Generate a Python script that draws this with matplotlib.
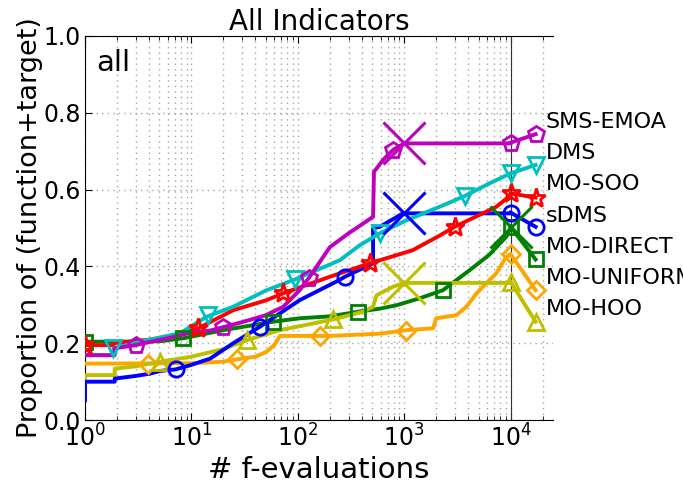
import matplotlib
matplotlib.use('Agg')
import matplotlib.pyplot as plt
import matplotlib.transforms as mtransforms

# ECDF data: number of f-evaluations vs proportion of (function+target) pairs
sms_x = [1, 1.9, 1.9, 3, 4, 6, 10, 15, 20, 30, 50, 73, 104, 128, 200, 300, 510, 520, 633, 785, 1000, 10000]
sms_y = [0.169, 0.169, 0.187, 0.195, 0.203, 0.213, 0.228, 0.233, 0.242, 0.255, 0.273, 0.295, 0.338, 0.371,
         0.45, 0.486, 0.529, 0.646, 0.677, 0.703, 0.72, 0.72]
sms_mx = [3, 19.6, 128, 785, 10000]
sms_my = [0.195, 0.242, 0.371, 0.703, 0.722]

dms_x = [1, 1.85, 1.85, 3.8, 7.8, 13.9, 24.7, 50.8, 94, 248, 382, 589, 1050, 2150, 3700, 6330, 10000]
dms_y = [0.169, 0.169, 0.187, 0.208, 0.226, 0.269, 0.295, 0.338, 0.366, 0.416, 0.455, 0.486, 0.52, 0.555,
         0.583, 0.616, 0.642]
dms_mx = [1.85, 14.4, 94, 589, 3700, 10000]
dms_my = [0.187, 0.273, 0.366, 0.486, 0.583, 0.642]

soo_x = [1, 1.85, 1.85, 5.4, 11.6, 24.7, 50.8, 72.8, 200, 474, 1200, 2150, 2980, 7340, 10000]
soo_y = [0.195, 0.195, 0.2, 0.213, 0.239, 0.286, 0.312, 0.33, 0.373, 0.408, 0.442, 0.48, 0.503, 0.555, 0.585]
soo_mx = [1, 11.6, 72.8, 474, 2980, 10000]
soo_my = [0.195, 0.239, 0.33, 0.408, 0.503, 0.59]

sdms_x = [1, 1, 1.9, 1.9, 3, 4.1, 5.1, 7.1, 9.8, 15, 24.7, 44, 104, 248, 277, 510, 510, 590, 975, 10000]
sdms_y = [0.052, 0.1, 0.1, 0.108, 0.115, 0.121, 0.128, 0.132, 0.143, 0.16, 0.2, 0.243, 0.312, 0.365, 0.373,
          0.408, 0.499, 0.503, 0.538, 0.538]
sdms_mx = [7.1, 44, 277, 10000]
sdms_my = [0.132, 0.243, 0.373, 0.54]

direct_x = [1, 2, 5, 8.4, 19.9, 58.6, 104, 200, 368, 590, 850, 1400, 2313, 4120, 6300, 9100, 10000]
direct_y = [0.204, 0.204, 0.205, 0.213, 0.234, 0.256, 0.265, 0.27, 0.282, 0.29, 0.299, 0.317, 0.338, 0.39,
            0.43, 0.477, 0.50]
direct_mx = [1, 8.4, 58.6, 368, 2313, 10000]
direct_my = [0.204, 0.213, 0.256, 0.282, 0.338, 0.503]

uniform_x = [1, 10, 20, 26.6, 40, 50.8, 60, 67.8, 200, 600, 1050, 1870, 2000, 3100, 3840, 4800, 5900, 7350,
             9100, 10000]
uniform_y = [0.147, 0.148, 0.152, 0.158, 0.165, 0.178, 0.195, 0.219, 0.219, 0.225, 0.234, 0.239, 0.265, 0.273,
             0.295, 0.33, 0.356, 0.382, 0.425, 0.43]
uniform_mx = [3.9, 26.6, 161, 1050, 10000]
uniform_my = [0.147, 0.158, 0.219, 0.232, 0.432]

hoo_x = [1, 1, 1.9, 1.9, 3, 5.1, 10, 20, 33, 67.8, 215, 410, 510, 550, 785, 1000, 10000]
hoo_y = [0.087, 0.117, 0.117, 0.134, 0.14, 0.152, 0.165, 0.185, 0.208, 0.234, 0.262, 0.282, 0.295, 0.325,
         0.347, 0.357, 0.357]
hoo_mx = [5.1, 33, 215, 10000]
hoo_my = [0.152, 0.208, 0.262, 0.36]

# final proportion per algorithm, drawn past the budget line
end_x = 17200
final_values = {'SMS-EMOA': 0.744, 'DMS': 0.664, 'MO-SOO': 0.579, 'sDMS': 0.503,
                'MO-DIRECT': 0.418, 'MO-UNIFORM': 0.338, 'MO-HOO': 0.256}
# last evaluated point of runs that stopped early
stop_points = {'SMS-EMOA': (1000, 0.72), 'sDMS': (1000, 0.538),
               'MO-HOO': (1000, 0.357), 'MO-DIRECT': (10000, 0.503)}

label_order = ['SMS-EMOA', 'DMS', 'MO-SOO', 'sDMS', 'MO-DIRECT', 'MO-UNIFORM', 'MO-HOO']
label_y = [0.776, 0.696, 0.614, 0.531, 0.451, 0.369, 0.288]

# drawn bottom to top
algos = [
    ('MO-UNIFORM', uniform_x, uniform_y, uniform_mx, uniform_my, 'orange', 'D', 9),
    ('MO-DIRECT', direct_x, direct_y, direct_mx, direct_my, 'g', 's', 10),
    ('MO-HOO', hoo_x, hoo_y, hoo_mx, hoo_my, 'y', '^', 12),
    ('sDMS', sdms_x, sdms_y, sdms_mx, sdms_my, 'b', 'o', 11),
    ('MO-SOO', soo_x, soo_y, soo_mx, soo_my, 'r', '*', 14),
    ('DMS', dms_x, dms_y, dms_mx, dms_my, 'c', 'v', 12),
    ('SMS-EMOA', sms_x, sms_y, sms_mx, sms_my, 'm', 'p', 12),
]

fig = plt.figure(figsize=(6.83, 4.84), dpi=100)
ax = fig.add_axes([0.1245, 0.132, 0.685, 0.794])

for name, xs, ys, mx, my, col, mk, ms in algos:
    ax.plot(xs, ys, color=col, lw=2.8, zorder=3)
    ax.plot(mx, my, ls='none', marker=mk, ms=ms, mfc='none', mec=col, mew=2, zorder=4)
    ax.plot([mx[-1], end_x], [my[-1], final_values[name]], color=col, lw=2.8,
            marker=mk, ms=ms, mfc='none', mec=col, mew=2, markevery=[1], zorder=4, clip_on=False)
    if name in stop_points:
        sx, sy = stop_points[name]
        ax.plot([sx], [sy], marker='x', ms=30, mew=2.2, color=col, zorder=5)

ax.axvline(10000, color='0.2', lw=0.8, zorder=2)

ax.set_xscale('log')
ax.set_xlim(1, 2.5e4)
ax.set_ylim(0, 1)
ax.set_yticks([0, 0.2, 0.4, 0.6, 0.8, 1.0])
ax.grid(True, which='major', ls=(0, (1, 3)), color='0.65', lw=1)
ax.grid(True, which='minor', axis='x', ls=(0, (1, 3)), color='0.65', lw=1)
ax.tick_params(which='both', direction='in', top=True, right=False, labelsize=17, pad=3)
ax.tick_params(which='major', length=5)
ax.tick_params(which='minor', length=3)
ax.spines['right'].set_visible(False)

ax.set_title('All Indicators', fontsize=20, pad=3)
ax.set_xlabel('# f-evaluations', fontsize=21, labelpad=3)
ax.set_ylabel('Proportion of (function+target)', fontsize=19.5, labelpad=0)
ax.text(0.025, 0.965, 'all', transform=ax.transAxes, fontsize=21, va='top', ha='left')

trans = mtransforms.blended_transform_factory(ax.transAxes, ax.transData)
for name, ly in zip(label_order, label_y):
    ax.text(0.985, ly, name, transform=trans, fontsize=16, va='center', ha='left', clip_on=False)

fig.savefig('out.png', dpi=100)
